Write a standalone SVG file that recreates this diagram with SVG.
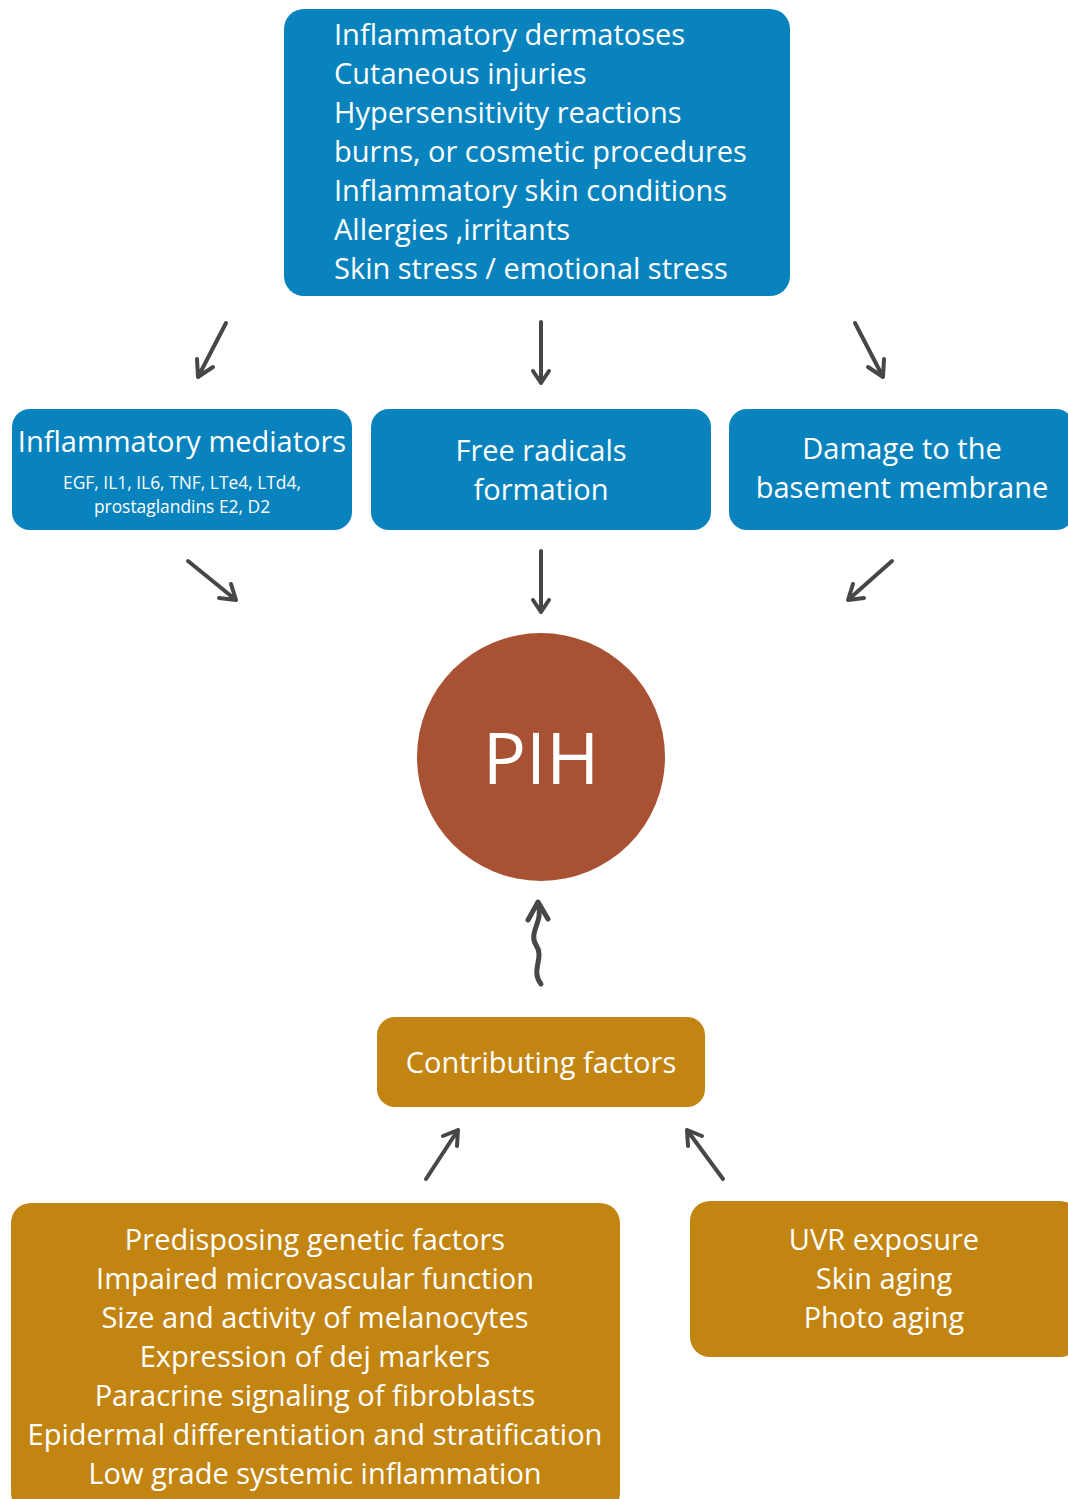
<svg xmlns="http://www.w3.org/2000/svg" width="1068" height="1499" viewBox="0 0 1068 1499">
<style>
.blue{fill:#0883BE}
.gold{fill:#C38512}
.t{font-family:"Open Sans","Noto Sans",sans-serif;fill:#ffffff;font-size:29px}
.c{text-anchor:middle}
.s{font-size:17.4px}
.ar{fill:none;stroke:#474747;stroke-width:4;stroke-linecap:round;stroke-linejoin:round}
</style>
<rect width="1068" height="1499" fill="#ffffff"/>
<g id="causes">
<rect class="blue" x="284" y="9" width="506" height="287" rx="20"/>
<text class="t" x="334" y="45">Inflammatory dermatoses</text>
<text class="t" x="334" y="84">Cutaneous injuries</text>
<text class="t" x="334" y="123">Hypersensitivity reactions</text>
<text class="t" x="334" y="162">burns, or cosmetic procedures</text>
<text class="t" x="334" y="201">Inflammatory skin conditions</text>
<text class="t" x="334" y="240">Allergies ,irritants</text>
<text class="t" x="334" y="279">Skin stress / emotional stress</text>
</g>
<g id="mediators">
<rect class="blue" x="12" y="409" width="340" height="121" rx="18"/>
<text class="t c" x="182" y="452">Inflammatory mediators</text>
<text class="t c s" x="182" y="489">EGF, IL1, IL6, TNF, LTe4, LTd4,</text>
<text class="t c s" x="182" y="513">prostaglandins E2, D2</text>
</g>
<g id="radicals">
<rect class="blue" x="371" y="409" width="340" height="121" rx="18"/>
<text class="t c" x="541" y="461">Free radicals</text>
<text class="t c" x="541" y="500">formation</text>
</g>
<g id="damage">
<rect class="blue" x="729" y="409" width="345" height="121" rx="18"/>
<text class="t c" x="902" y="459">Damage to the</text>
<text class="t c" x="902" y="498">basement membrane</text>
</g>
<g id="pih">
<circle cx="541" cy="757" r="124" fill="#A85233"/>
<text class="t c" x="541" y="784" style="font-size:72px">PIH</text>
</g>
<g id="contributing">
<rect class="gold" x="377" y="1017" width="328" height="90" rx="18"/>
<text class="t c" x="541" y="1073">Contributing factors</text>
</g>
<g id="genetic">
<rect class="gold" x="11" y="1203" width="609" height="310" rx="20"/>
<text class="t c" x="315" y="1250">Predisposing genetic factors</text>
<text class="t c" x="315" y="1289">Impaired microvascular function</text>
<text class="t c" x="315" y="1328">Size and activity of melanocytes</text>
<text class="t c" x="315" y="1367">Expression of dej markers</text>
<text class="t c" x="315" y="1406">Paracrine signaling of fibroblasts</text>
<text class="t c" x="315" y="1445">Epidermal differentiation and stratification</text>
<text class="t c" x="315" y="1484">Low grade systemic inflammation</text>
</g>
<g id="uvr">
<rect class="gold" x="690" y="1201" width="390" height="156" rx="20"/>
<text class="t c" x="884" y="1250">UVR exposure</text>
<text class="t c" x="884" y="1289">Skin aging</text>
<text class="t c" x="884" y="1328">Photo aging</text>
</g>
<g id="connectors">
<path class="ar" d="M226 323 L198 377 M197 359 L198 377 L213 367"/>
<path class="ar" d="M541 322 L541 383 M533 371 L541 383 L549 371"/>
<path class="ar" d="M855 323 L883 377 M868 367 L883 377 L884 359"/>
<path class="ar" d="M188 561 L236 600 M231 584 L236 600 L219 598"/>
<path class="ar" d="M541 551 L541 612 M533 600 L541 612 L549 600"/>
<path class="ar" d="M892 561 L848 600 M864 598 L848 600 L853 584"/>
<path class="ar" style="stroke-width:5" d="M541 984 C530 970 545 958 536 945 C528 932 544 922 538 903 M528 920 L538 902 L548 919"/>
<path class="ar" d="M426 1179 L458 1130 M443 1136 L458 1130 L457 1146"/>
<path class="ar" d="M723 1179 L687 1130 M688 1146 L687 1130 L702 1136"/>
</g>
</svg>
